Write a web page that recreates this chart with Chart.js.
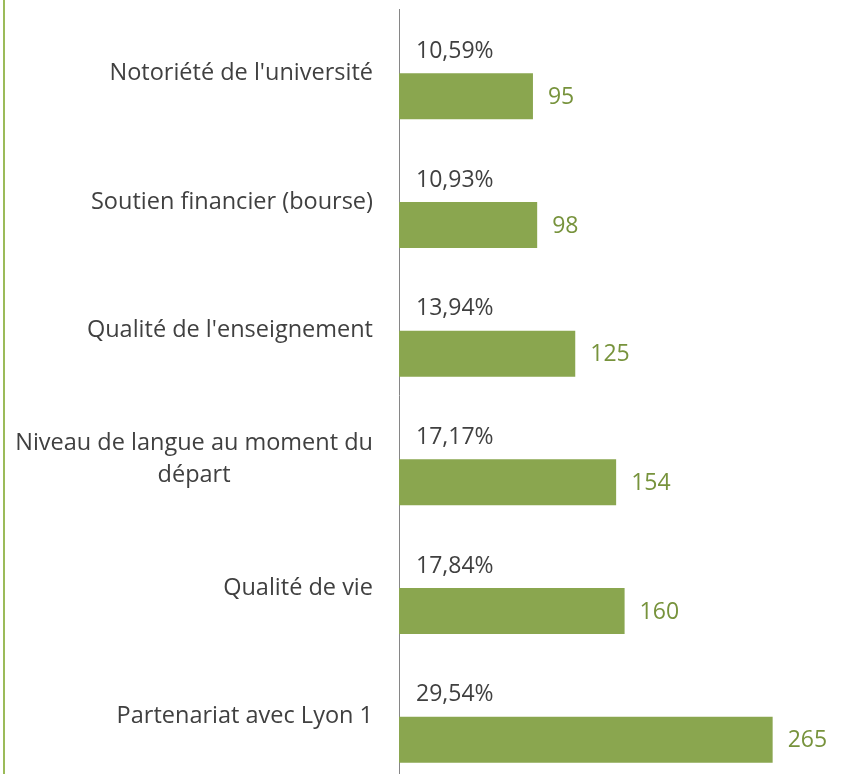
<!DOCTYPE html>
<html>
<head>
<meta charset="utf-8">
<script src="https://cdn.jsdelivr.net/npm/chart.js@4"></script>
<style>
  html, body { margin: 0; padding: 0; background: #fff; overflow: hidden; }
  #wrap { position: relative; width: 844px; height: 774px; overflow: hidden; }
  #edge { position: absolute; left: 3px; top: 0; width: 2px; height: 774px; background: #9bbb59; }
  canvas { display: block; }
</style>
</head>
<body>
<div id="wrap">
  <canvas id="chart" width="844" height="781"></canvas>
  <div id="edge"></div>
</div>
<script>
// reasons given for choosing the destination
const categories = [
  ["Notoriété de l'université"],
  ["Soutien financier (bourse)"],
  ["Qualité de l'enseignement"],
  ["Niveau de langue au moment du", "départ"],
  ["Qualité de vie"],
  ["Partenariat avec Lyon 1"]
];
const counts = [95, 98, 125, 154, 160, 265];
const percents = [10.59, 10.93, 13.94, 17.17, 17.84, 29.54];

const LABEL_FONT = '23.5px "Open Sans"';
const VALUE_FONT = '23px "Open Sans"';
const TEXT = '#404040';
const GREEN = '#8aa64f';
const GREEN_TEXT = '#77933c';

const fmtPct = (v) => v.toFixed(2).replace('.', ',') + '%';

// category names (right-aligned block, centred lines) + value labels
const labelsPlugin = {
  id: 'labels',
  afterDatasetsDraw(chart) {
    const ctx = chart.ctx;
    const yScale = chart.scales.y;
    const left = chart.chartArea.left;
    ctx.save();
    ctx.textBaseline = 'middle';

    ctx.font = LABEL_FONT;
    ctx.textAlign = 'center';
    ctx.fillStyle = TEXT;
    categories.forEach((lines, i) => {
      const yc = yScale.getPixelForValue(i);
      const w = Math.max(...lines.map(l => ctx.measureText(l).width));
      const cx = left - 26 - w / 2;
      lines.forEach((l, k) => {
        ctx.fillText(l, cx, yc + (k - (lines.length - 1) / 2) * 32);
      });
    });

    ctx.font = VALUE_FONT;
    ctx.textAlign = 'left';
    chart.getDatasetMeta(0).data.forEach((bar, i) => {
      ctx.fillStyle = TEXT;
      ctx.fillText(fmtPct(percents[i]), left + 17, bar.y + 1);
    });
    chart.getDatasetMeta(1).data.forEach((bar, i) => {
      ctx.fillStyle = GREEN_TEXT;
      ctx.fillText(String(counts[i]), bar.x + 15, bar.y + 1);
    });
    ctx.restore();
  }
};

new Chart(document.getElementById('chart'), {
  type: 'bar',
  data: {
    labels: categories,
    datasets: [
      { label: 'Pourcentage', data: percents, backgroundColor: 'rgba(0,0,0,0)' },
      { label: 'Effectif', data: counts, backgroundColor: GREEN }
    ]
  },
  options: {
    indexAxis: 'y',
    responsive: false,
    animation: false,
    layout: { padding: { top: 9, right: 22, left: 0, bottom: 0 } },
    datasets: { bar: { barPercentage: 1, categoryPercentage: 0.715 } },
    plugins: { legend: { display: false }, tooltip: { enabled: false } },
    scales: {
      x: { display: false, min: 0, max: 300 },
      y: {
        ticks: { display: false },
        grid: { display: false },
        border: { display: true, color: '#868686', width: 1 },
        afterFit: (scale) => { scale.width = 399; }
      }
    }
  },
  plugins: [labelsPlugin]
});
</script>
</body>
</html>
